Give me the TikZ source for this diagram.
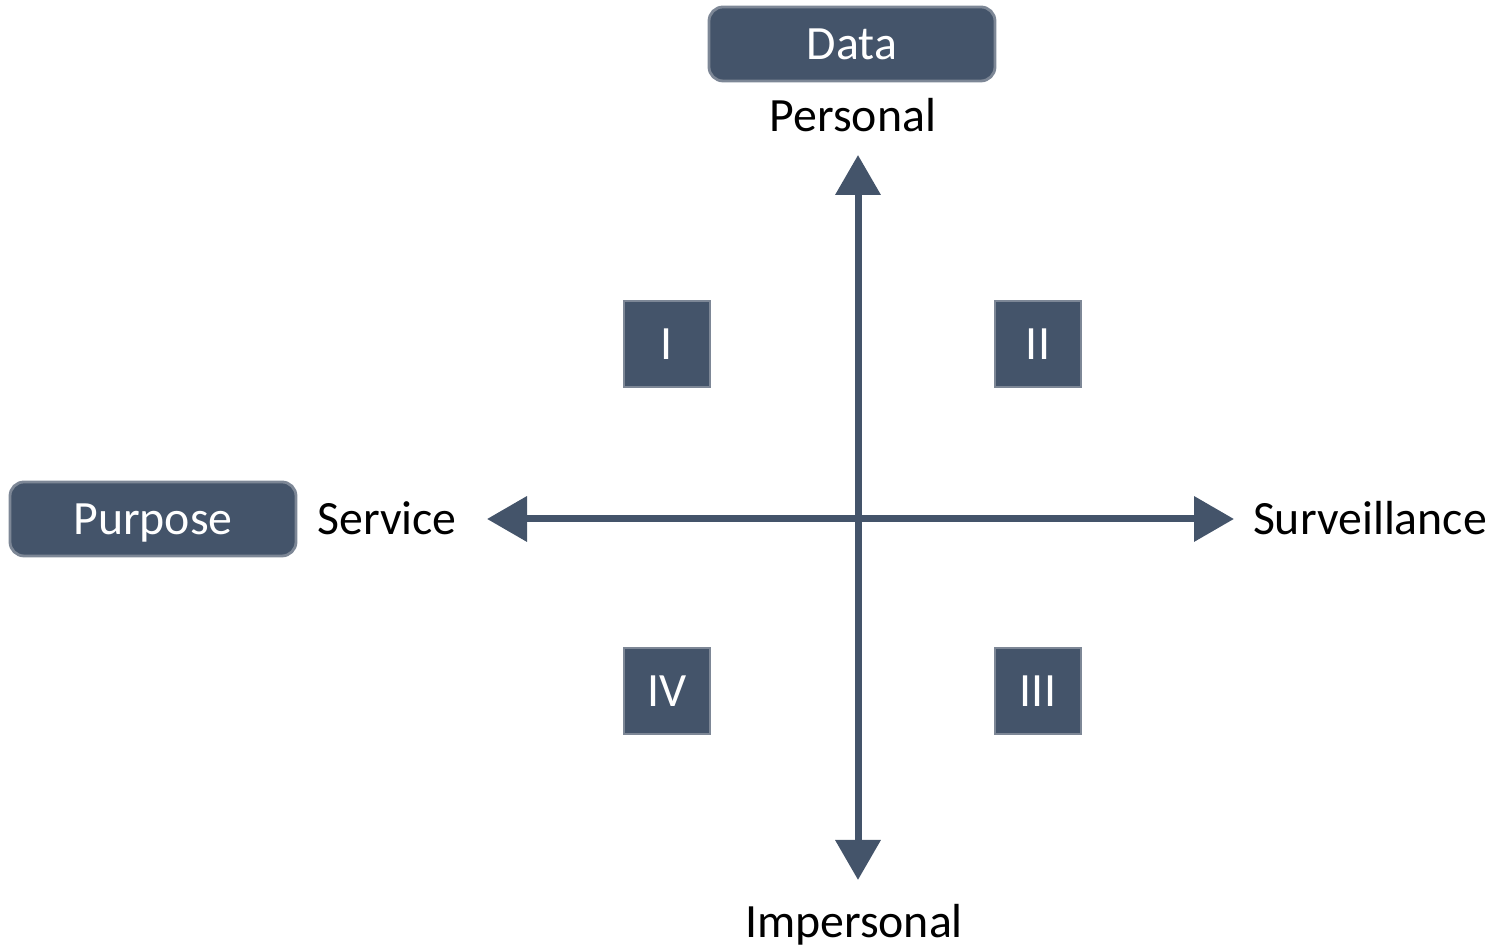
\documentclass[tikz,border=0pt]{standalone}
\usepackage{fontspec}
\setmainfont{Carlito}
\usetikzlibrary{arrows.meta, positioning}
\definecolor{Slate}  {HTML}{44546A}
\definecolor{SlateL} {HTML}{7D8796}
\tikzset{
  hdr/.style={
    rectangle, rounded corners=4pt,
    draw=SlateL, fill=Slate, text=white,
    font=\fontsize{13.6}{16}\selectfont, align=center,
    text height=0.31cm, text depth=0pt,
    minimum width=2.86cm, minimum height=0.74cm,
    line width=0.8pt,
  },
  quad/.style={
    rectangle, draw=SlateL, fill=Slate, text=white,
    font=\fontsize{13.6}{16}\selectfont,
    text height=0.31cm, text depth=0pt,
    minimum width=0.86cm, minimum height=0.86cm,
    line width=0.6pt,
  },
  pole/.style={
    font=\fontsize{13.6}{16}\selectfont, text=black,
    text height=0.31cm, text depth=0pt, inner sep=0pt,
  },
  arr/.style={
    {Triangle[length=0.40cm,width=0.44cm]}-{Triangle[length=0.40cm,width=0.44cm]},
    line width=0.07cm, color=Slate,
  },
}
\begin{document}
\begin{tikzpicture}[x=1cm,y=1cm]
    \useasboundingbox (0,0) rectangle (14.94,9.45);

    % dimension headers
    \node[hdr] (data) at (8.52,9.01) {Data};
    \node[hdr] (purp) at (1.53,4.26) {Purpose};

    % axis end labels
    \node[pole] (pers) at (8.53,8.29) {Personal};
    \node[pole] (imp)  at (8.54,0.225){Impersonal};
    \node[pole] (serv) at (3.87,4.26) {Service};
    \node[pole] (surv) at (13.70,4.26){Surveillance};

    % axes
    \coordinate (ytop) at (8.58,7.90);
    \coordinate (ybot) at (8.58,0.65);
    \coordinate (xlft) at (4.87,4.26);
    \coordinate (xrgt) at (12.34,4.26);
    \draw[arr] (ybot)--(ytop);
    \draw[arr] (xlft)--(xrgt);

    % quadrants
    \node[quad] (q1) at (6.67,6.01)  {I};
    \node[quad] (q2) at (10.38,6.01) {II};
    \node[quad] (q3) at (10.38,2.54) {III};
    \node[quad] (q4) at (6.67,2.54)  {IV};
  \end{tikzpicture}
\end{document}
